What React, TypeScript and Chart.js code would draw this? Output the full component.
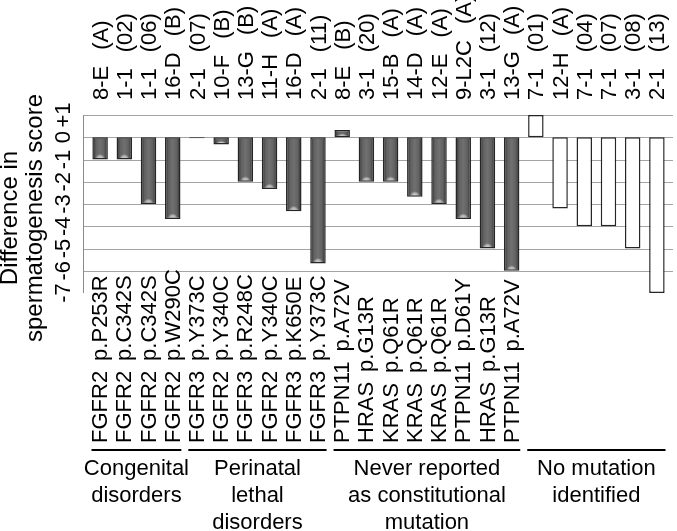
import React, { useEffect, useRef } from "react";
import { Chart, registerables } from "chart.js";

Chart.register(...registerables);

const sampleLabels = [
  "8-E (A)", "1-1 (02)", "1-1 (06)", "16-D (B)",
  "2-1 (07)", "10-F (B)", "13-G (B)", "11-H (A)", "16-D (A)", "2-1 (11)",
  "8-E (B)", "3-1 (20)", "15-B (A)", "14-D (A)", "12-E (A)", "9-L2C (A)", "3-1 (12)", "13-G (A)",
  "7-1 (01)", "12-H (A)", "7-1 (04)", "7-1 (07)", "3-1 (08)", "2-1 (13)",
];

const mutationLabels = [
  "FGFR2 p.P253R", "FGFR2 p.C342S", "FGFR2 p.C342S", "FGFR2 p.W290C",
  "FGFR3 p.Y373C", "FGFR2 p.Y340C", "FGFR3 p.R248C", "FGFR2 p.Y340C", "FGFR3 p.K650E", "FGFR3 p.Y373C",
  "PTPN11 p.A72V", "HRAS p.G13R", "KRAS p.Q61R", "KRAS p.Q61R", "KRAS p.Q61R", "PTPN11 p.D61Y", "HRAS p.G13R", "PTPN11 p.A72V",
  "", "", "", "", "", "",
];

const scoreDifference = [
  -1, -1, -3, -3.67,
  -0.05, -0.33, -2, -2.33, -3.33, -5.67,
  0.33, -2, -2, -2.67, -3, -3.67, -5, -6,
  1, -3.2, -4, -4, -5, -7,
];

const groupNames = [
  ["Congenital", "disorders"],
  ["Perinatal", "lethal", "disorders"],
  ["Never reported", "as constitutional", "mutation"],
  ["No mutation", "identified"],
];
const groupStart = [0, 4, 10, 18];
const groupEnd = [3, 9, 17, 23];
const mutatedGroups = [true, true, true, false];

const yTickValues = [-7, -6, -5, -4, -3, -2, -1, 0, 1];
const yTickLabels = ["-7", "-6", "-5", "-4", "-3", "-2", "-1", "0", "+1"];
const yTitle = ["Difference in", "spermatogenesis score"];

const FONT = '"Liberation Sans", Arial, Helvetica, sans-serif';

function isMutated(i: number) {
  for (let g = 0; g < groupStart.length; g++) {
    if (i >= groupStart[g] && i <= groupEnd[g]) return mutatedGroups[g];
  }
  return false;
}

function rotText(ctx: any, text: string, x: number, y: number, align: string) {
  ctx.save();
  ctx.translate(x, y);
  ctx.rotate(-Math.PI / 2);
  ctx.textAlign = align;
  ctx.textBaseline = "middle";
  ctx.fillText(text, 0, 0);
  ctx.restore();
}

// rotated text, reading upward from (x, y), with a custom gap in place of spaces
function rotTextSpaced(ctx: any, text: string, x: number, y: number, gap: number) {
  ctx.save();
  ctx.translate(x, y);
  ctx.rotate(-Math.PI / 2);
  ctx.textAlign = "left";
  ctx.textBaseline = "middle";
  const parts = text.split(" ");
  let pos = 0;
  parts.forEach((p, k) => {
    ctx.fillText(p, pos, 0);
    pos += ctx.measureText(p).width;
    if (k < parts.length - 1) pos += gap;
  });
  ctx.restore();
}

const customPlugin = {
  id: "customDraw",
  beforeDatasetsDraw(chart: any) {
    const ctx = chart.ctx;
    const y = chart.scales.y;
    const area = chart.chartArea;
    const gl = area.left - 5;
    const gr = area.right + 4;
    ctx.save();
    ctx.strokeStyle = "#a4a4a4";
    ctx.lineWidth = 1;
    for (const v of yTickValues) {
      if (v === -7) continue;
      const py = Math.round(y.getPixelForValue(v)) + 0.5;
      ctx.beginPath();
      ctx.moveTo(gl, py);
      ctx.lineTo(gr, py);
      ctx.stroke();
    }
    ctx.strokeStyle = "#8a8a8a";
    ctx.beginPath();
    ctx.moveTo(gl + 0.5, y.getPixelForValue(1));
    ctx.lineTo(gl + 0.5, y.getPixelForValue(-7));
    ctx.stroke();
    ctx.restore();
  },
  afterDatasetsDraw(chart: any) {
    const ctx = chart.ctx;
    const x = chart.scales.x;
    const y = chart.scales.y;
    const area = chart.chartArea;
    const meta = chart.getDatasetMeta(0);
    const catW = (area.right - area.left) / sampleLabels.length;

    // bar shading
    ctx.save();
    meta.data.forEach((el: any, i: number) => {
      if (!isMutated(i)) return;
      const w = el.width;
      const left = el.x - w / 2 + 1.5;
      const right = el.x + w / 2 - 1.5;
      const top = Math.min(el.y, el.base) + 1.5;
      const bottom = Math.max(el.y, el.base) - 1.5;
      if (bottom - top < 1) return;
      const g = ctx.createLinearGradient(left, 0, right, 0);
      g.addColorStop(0, "rgba(30,30,30,0.6)");
      g.addColorStop(0.2, "rgba(60,60,60,0.15)");
      g.addColorStop(0.5, "rgba(140,140,140,0.2)");
      g.addColorStop(0.8, "rgba(60,60,60,0.15)");
      g.addColorStop(1, "rgba(30,30,30,0.6)");
      ctx.fillStyle = g;
      ctx.fillRect(left, top, right - left, bottom - top);
      const hh = Math.min(5, (bottom - top) * 0.6);
      ctx.save();
      ctx.beginPath();
      ctx.rect(left, top, right - left, bottom - top);
      ctx.clip();
      const rg = ctx.createRadialGradient(el.x, bottom + 1, 0, el.x, bottom + 1, (right - left) * 0.45);
      rg.addColorStop(0, "rgba(235,235,235,0.95)");
      rg.addColorStop(0.6, "rgba(210,210,210,0.6)");
      rg.addColorStop(1, "rgba(120,120,120,0)");
      ctx.fillStyle = rg;
      ctx.beginPath();
      ctx.ellipse(el.x, bottom + 1, (right - left) * 0.45, hh, 0, 0, Math.PI * 2);
      ctx.fill();
      ctx.restore();
    });
    ctx.restore();

    ctx.save();
    ctx.fillStyle = "#000";
    ctx.font = `22px ${FONT}`;
    // top labels
    sampleLabels.forEach((lab, i) => {
      const px = x.getPixelForValue(i);
      rotTextSpaced(ctx, lab, px + 1.5, 100, 16);
    });
    // bottom labels
    mutationLabels.forEach((lab, i) => {
      if (!lab) return;
      const px = x.getPixelForValue(i);
      rotTextSpaced(ctx, lab, px + 1, 443, 10);
    });
    // y ticks
    yTickValues.forEach((v, i) => {
      const py = y.getPixelForValue(v);
      rotText(ctx, yTickLabels[i], 64, py, "center");
    });
    // y title
    ctx.font = `24px ${FONT}`;
    const cy = 218;
    [10, 35].forEach((tx, li) => {
      rotText(ctx, yTitle[li], tx, cy, "center");
    });
    ctx.font = `22px ${FONT}`;
    // group underlines and names
    ctx.strokeStyle = "#000";
    ctx.lineWidth = 2;
    groupStart.forEach((s, g) => {
      const e = groupEnd[g];
      const x0 = x.getPixelForValue(s) - catW / 2 + 3.5;
      const x1 = x.getPixelForValue(e) + catW / 2 - 3.5;
      ctx.beginPath();
      ctx.moveTo(x0, 450);
      ctx.lineTo(x1, 450);
      ctx.stroke();
      const cx = (x0 + x1) / 2;
      ctx.textAlign = "center";
      ctx.textBaseline = "alphabetic";
      groupNames[g].forEach((line, li) => {
        ctx.fillText(line, cx, 475 + li * 27);
      });
    });
    ctx.restore();
  },
};

export default function App() {
  const canvasRef = useRef<HTMLCanvasElement | null>(null);
  useEffect(() => {
    if (!canvasRef.current) return;
    const chart = new Chart(canvasRef.current, {
      type: "bar",
      data: {
        labels: sampleLabels,
        datasets: [
          {
            data: scoreDifference,
            backgroundColor: scoreDifference.map((_, i) => (isMutated(i) ? "#6a6a6a" : "#ffffff")),
            borderColor: "#262626",
            borderWidth: 1.5,
            borderSkipped: false,
            categoryPercentage: 1,
            barPercentage: 0.64,
          },
        ],
      },
      options: {
        animation: false,
        responsive: false,
        devicePixelRatio: 1,
        layout: { padding: { left: 88, right: 8, top: 115, bottom: 238 } },
        plugins: { legend: { display: false }, tooltip: { enabled: false } },
        scales: {
          x: { type: "category", offset: true, display: false, grid: { display: false } },
          y: { min: -7, max: 1, display: false, grid: { display: false } },
        },
      },
      plugins: [customPlugin],
    });
    return () => chart.destroy();
  }, []);
  return (
    <div style={{ position: "fixed", left: 0, top: 0, width: 677, height: 531, background: "#fff" }}>
      <canvas ref={canvasRef} width={677} height={531} style={{ width: 677, height: 531 }} />
    </div>
  );
}
